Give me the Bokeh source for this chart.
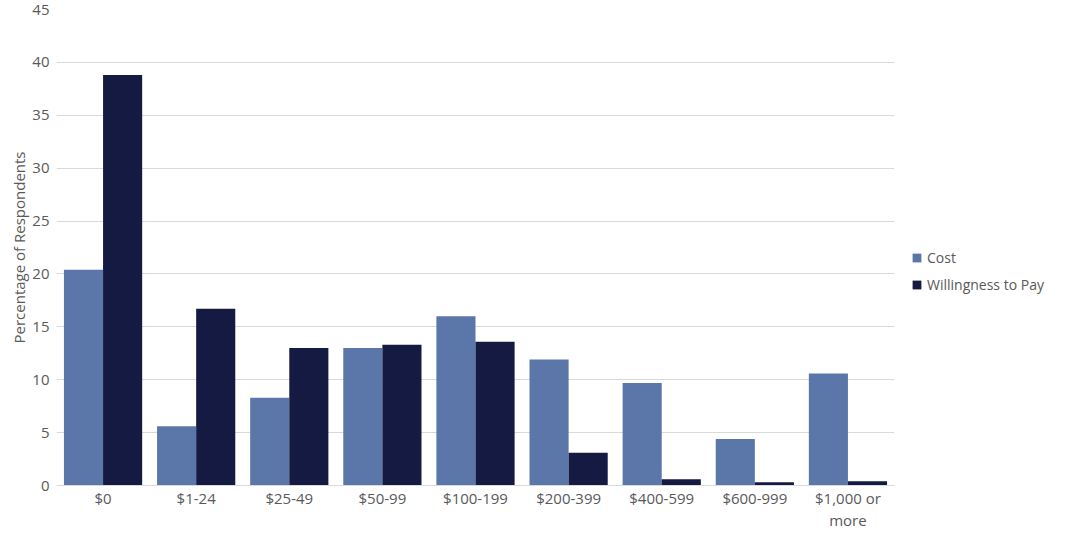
from bokeh.plotting import figure
from bokeh.models import ColumnDataSource, FactorRange, Range1d, Legend, LegendItem, SingleIntervalTicker
from bokeh.layouts import row
from bokeh.transform import dodge
from bokeh.embed import file_html
from bokeh.resources import INLINE

categories = ["$0", "$1-24", "$25-49", "$50-99", "$100-199", "$200-399",
              "$400-599", "$600-999", "$1,000 or\nmore"]
cost = [20.4, 5.6, 8.3, 13.0, 16.0, 11.9, 9.7, 4.4, 10.6]
willingness = [38.8, 16.7, 13.0, 13.3, 13.6, 3.1, 0.6, 0.3, 0.4]
series_names = ["Cost", "Willingness to Pay"]
colors = ["#5B76A8", "#141A42"]

src = ColumnDataSource(dict(cat=categories, cost=cost, wtp=willingness))

FONT = "Open Sans"
TXT = "#595959"

p = figure(width=900, height=532, x_range=FactorRange(*categories, range_padding=0),
           y_range=Range1d(0, 45), output_backend="svg", toolbar_location=None,
           min_border_left=56, min_border_right=6, min_border_top=9, min_border_bottom=40)

bw = 0.42
p.vbar(x=dodge("cat", -bw / 2, range=p.x_range), top="cost", width=bw, source=src,
       fill_color=colors[0], line_color=None)
p.vbar(x=dodge("cat", bw / 2, range=p.x_range), top="wtp", width=bw, source=src,
       fill_color=colors[1], line_color=None)

p.outline_line_color = None
p.xgrid.grid_line_color = None
p.ygrid.grid_line_color = "#D9D9D9"
p.ygrid.grid_line_width = 1
p.yaxis.ticker = SingleIntervalTicker(interval=5)

p.yaxis.axis_line_color = None
p.yaxis.major_tick_line_color = None
p.yaxis.major_tick_out = 0
p.yaxis.minor_tick_line_color = None
p.yaxis.major_label_standoff = 3
p.yaxis.axis_label = "Percentage of Respondents"
p.yaxis.axis_label_standoff = 0
p.yaxis.axis_label_text_font = FONT
p.yaxis.axis_label_text_font_style = "normal"
p.yaxis.axis_label_text_font_size = "15px"
p.yaxis.axis_label_text_color = TXT
p.yaxis.major_label_text_font = FONT
p.yaxis.major_label_text_font_size = "15px"
p.yaxis.major_label_text_color = TXT

p.xaxis.axis_line_color = "#D9D9D9"
p.xaxis.major_tick_line_color = None
p.xaxis.major_tick_out = 0
p.xaxis.minor_tick_line_color = None
p.xaxis.major_label_standoff = 2
p.xaxis.major_label_text_font = FONT
p.xaxis.major_label_text_font_size = "15px"
p.xaxis.major_label_text_line_height = 1.1
p.xaxis.major_label_text_color = TXT

# legend panel (separate narrow figure so the legend is not clipped by the frame)
lg = figure(width=149, height=532, x_range=Range1d(0, 1), y_range=Range1d(0, 1),
            output_backend="svg", toolbar_location=None,
            min_border_left=0, min_border_right=0, min_border_top=0, min_border_bottom=0)
lg.axis.visible = False
lg.grid.visible = False
lg.outline_line_color = None
# single off-range sample so the legend swatches are drawn; nothing is visible in the panel
g1 = lg.vbar(x=[5], top=[5], bottom=[4], width=0.1, fill_color=colors[0], line_color=None)
g2 = lg.vbar(x=[5], top=[5], bottom=[4], width=0.1, fill_color=colors[1], line_color=None)

legend = Legend(items=[LegendItem(label=series_names[0], renderers=[g1]),
                       LegendItem(label=series_names[1], renderers=[g2])],
                location=(11, 191), margin=0, padding=0, spacing=7,
                glyph_width=11, glyph_height=11, label_height=20, label_standoff=5,
                border_line_alpha=0, background_fill_alpha=0,
                label_text_font=FONT, label_text_font_size="14px", label_text_color=TXT)
lg.add_layout(legend, "center")

layout = row(p, lg, spacing=0)
open("out.html", "w").write(file_html(layout, INLINE))
